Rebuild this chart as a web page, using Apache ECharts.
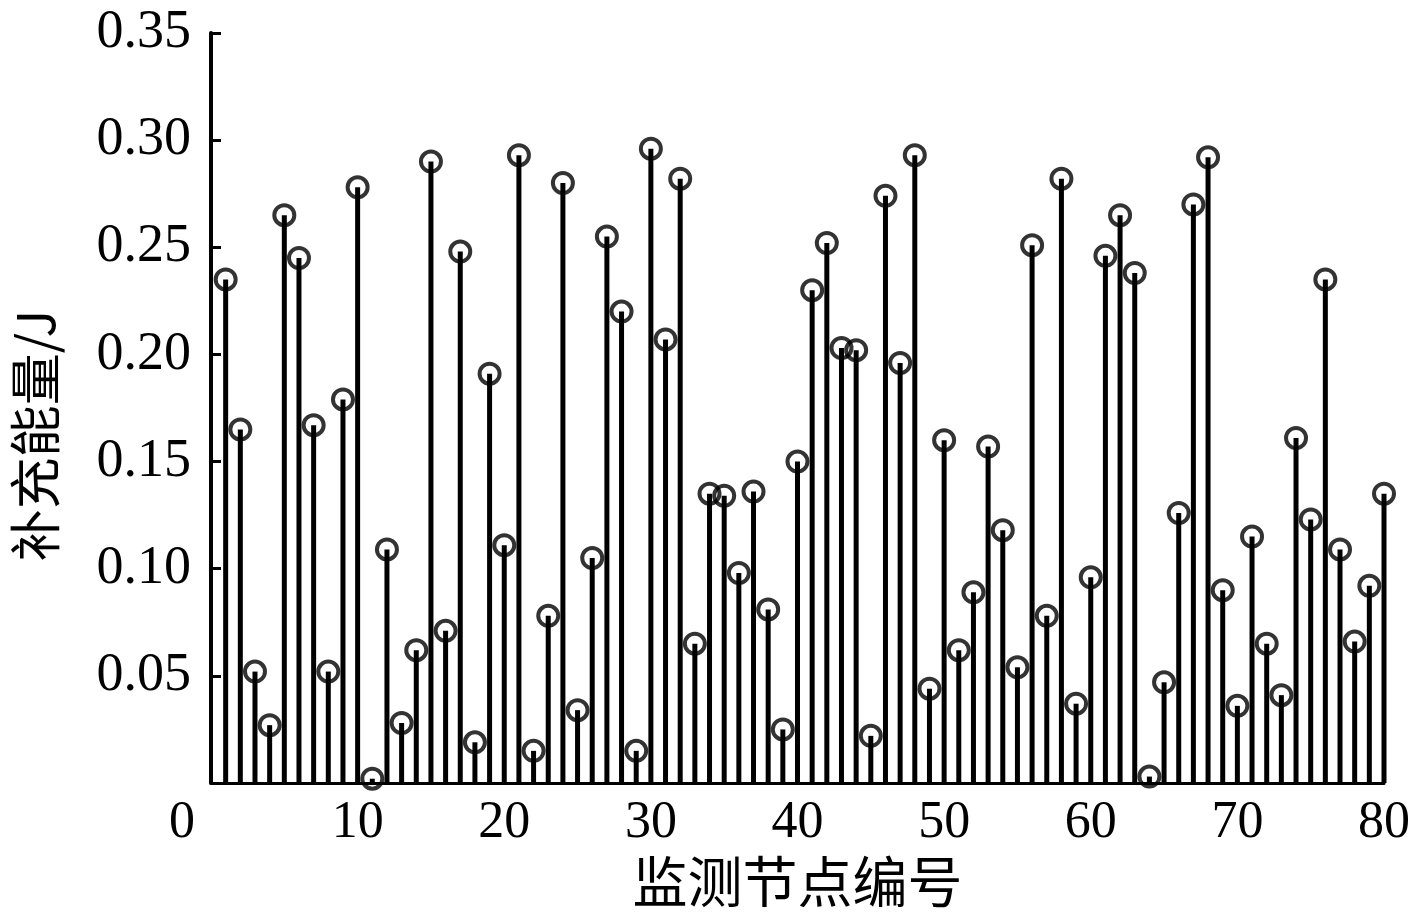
<!DOCTYPE html>
<html>
<head>
<meta charset="utf-8">
<script src="https://cdn.jsdelivr.net/npm/echarts@6/dist/echarts.min.js"></script>
<style>html,body{margin:0;padding:0;background:#fff}#c{width:1414px;height:920px}</style>
</head>
<body>
<div id="c"></div>
<script>
const nodeIds = Array.from({length: 80}, (_, i) => i + 1);
const energy = [
  0.235, 0.165, 0.052, 0.027, 0.265, 0.245, 0.167, 0.052, 0.179, 0.278,
  0.002, 0.109, 0.028, 0.062, 0.290, 0.071, 0.248, 0.019, 0.191, 0.111,
  0.293, 0.015, 0.078, 0.280, 0.034, 0.105, 0.255, 0.220, 0.015, 0.296,
  0.207, 0.282, 0.065, 0.135, 0.134, 0.098, 0.136, 0.081, 0.025, 0.150,
  0.230, 0.252, 0.203, 0.202, 0.022, 0.274, 0.196, 0.293, 0.044, 0.160,
  0.062, 0.089, 0.157, 0.118, 0.054, 0.251, 0.078, 0.282, 0.037, 0.096,
  0.246, 0.265, 0.238, 0.003, 0.047, 0.126, 0.270, 0.292, 0.090, 0.036,
  0.115, 0.065, 0.041, 0.161, 0.123, 0.235, 0.109, 0.066, 0.092, 0.135
];
const xTicks = [0, 10, 20, 30, 40, 50, 60, 70, 80];
const yTicks = [0.05, 0.10, 0.15, 0.20, 0.25, 0.30, 0.35];

const points = nodeIds.map((x, i) => [x, energy[i]]);
const serif = '"Liberation Serif", "Times New Roman", serif';
const cjk = '"Noto Sans CJK SC", sans-serif';

const chart = echarts.init(document.getElementById('c'), null, {renderer: 'canvas'});
chart.setOption({
  animation: false,
  backgroundColor: '#fff',
  grid: {left: 211, right: 30, top: 33, bottom: 137, containLabel: false, outerBoundsMode: 'none'},
  xAxis: {
    type: 'value', min: 0, max: 80, interval: 10,
    name: '监测节点编号', nameLocation: 'middle', nameGap: 70,
    nameTextStyle: {fontFamily: cjk, fontSize: 55, color: '#000'},
    axisLine: {lineStyle: {color: '#000', width: 3}},
    axisTick: {show: false},
    splitLine: {show: false},
    axisLabel: {
      margin: 14, color: '#000', fontFamily: serif, fontSize: 52,
      formatter: v => xTicks.includes(v) ? (v === 0 ? '{z|0}' : String(v)) : '',
      rich: {z: {fontFamily: serif, fontSize: 52, color: '#000', padding: [0, 58, 0, 0]}}
    }
  },
  yAxis: {
    type: 'value', min: 0, max: 0.35, interval: 0.05,
    name: '补充能量/J', nameLocation: 'middle', nameGap: 150,
    nameTextStyle: {fontFamily: cjk, fontSize: 52, color: '#000', padding: [0, 55, 0, 0]},
    axisLine: {lineStyle: {color: '#000', width: 4}},
    axisTick: {show: true, inside: true, length: 10, lineStyle: {color: '#000', width: 3}},
    splitLine: {show: false},
    axisLabel: {
      showMinLabel: false, margin: 20, color: '#000', fontFamily: serif, fontSize: 54,
      formatter: v => {
        const t = yTicks.find(k => Math.abs(k - v) < 1e-9);
        return t === undefined ? '' : t.toFixed(2);
      }
    }
  },
  series: [
    {
      type: 'bar', data: points, barWidth: 5, silent: true,
      itemStyle: {color: '#000'}, z: 2
    },
    {
      type: 'scatter', data: points, symbol: 'circle', symbolSize: 20, silent: true,
      itemStyle: {color: 'rgba(0,0,0,0)', borderColor: '#000', borderWidth: 4}, z: 3
    }
  ]
});
</script>
</body>
</html>
